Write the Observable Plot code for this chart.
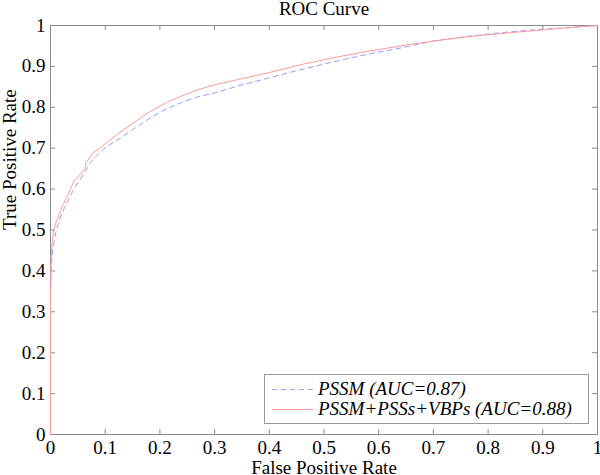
<!DOCTYPE html>
<html><head><meta charset="utf-8">
<script src="https://cdn.jsdelivr.net/npm/d3@7"></script>
<script src="https://cdn.jsdelivr.net/npm/@observablehq/plot@0.6"></script>
<style>
body{margin:0;background:#fff;}
#wrap{position:relative;width:600px;height:475px;font-family:"Liberation Serif","Times New Roman",Times,serif;}
#wrap svg text{font-family:"Liberation Serif","Times New Roman",Times,serif;}
#legend{position:absolute;left:264px;top:374px;width:325px;height:50px;border:1px solid #999;background:#fff;box-sizing:border-box;}
.row{position:absolute;left:0;height:20px;display:flex;align-items:center;font-style:italic;font-size:19px;color:#000;white-space:nowrap;}
.row svg{margin-left:7px;margin-right:5px;}
</style></head><body><div id="wrap"></div>
<script>
// ---- data ----
const title = "ROC Curve";
const xLabel = "False Positive Rate";
const yLabel = "True Positive Rate";
const xTicks = [0,0.1,0.2,0.3,0.4,0.5,0.6,0.7,0.8,0.9,1];
const xTickLabels = ["0","0.1","0.2","0.3","0.4","0.5","0.6","0.7","0.8","0.9","1"];
const yTicks = [0,0.1,0.2,0.3,0.4,0.5,0.6,0.7,0.8,0.9,1];
const yTickLabels = ["0","0.1","0.2","0.3","0.4","0.5","0.6","0.7","0.8","0.9","1"];
const seriesNames = ["PSSM (AUC=0.87)", "PSSM+PSSs+VBPs (AUC=0.88)"];
const seriesColors = ["#9a9aff", "#ff9a9a"];
const seriesDash = ["5,4", null];

const pssmFpr = [0,0,0.002,0.005,0.009,0.015,0.024,0.035,0.045,0.06,0.073,0.09,0.104,0.128,0.15,0.18,0.21,0.24,0.27,0.3,0.35,0.4,0.46,0.52,0.58,0.64,0.7,0.76,0.82,0.88,0.94,1];
const pssmTpr = [0,0.35,0.42,0.46,0.49,0.52,0.55,0.58,0.605,0.635,0.665,0.69,0.705,0.725,0.745,0.772,0.795,0.812,0.826,0.835,0.855,0.872,0.893,0.912,0.93,0.945,0.962,0.973,0.982,0.989,0.994,1];

const fullFpr = [0,0,0.001,0.003,0.006,0.009,0.015,0.024,0.033,0.043,0.055,0.063,0.065,0.079,0.09,0.104,0.128,0.15,0.18,0.21,0.24,0.27,0.3,0.35,0.4,0.46,0.52,0.58,0.64,0.7,0.76,0.82,0.88,0.94,1];
const fullTpr = [0,0.35,0.43,0.47,0.50,0.515,0.535,0.565,0.59,0.62,0.637,0.65,0.665,0.69,0.70,0.715,0.74,0.76,0.788,0.81,0.828,0.843,0.855,0.87,0.885,0.905,0.922,0.937,0.95,0.962,0.972,0.98,0.987,0.994,1];

// ---- build ----
const W = 600, H = 475, mt = 25, mr = 3, mb = 41, ml = 50;
const fh = H - mt - mb, fw = W - ml - mr, tl = 5;
const toRows = (xs, ys) => xs.map((x, i) => ({fpr: x, tpr: ys[i]}));
const series = [toRows(pssmFpr, pssmTpr), toRows(fullFpr, fullTpr)];
const axisColor = "#8c8c8c";
const font = "'Liberation Serif', 'Times New Roman', Times, serif";

const plot = Plot.plot({
  width: W, height: H,
  marginTop: mt, marginRight: mr, marginBottom: mb, marginLeft: ml,
  style: {fontFamily: font, fontSize: "19px", color: "#000", background: "#fff"},
  x: {domain: [0, 1]},
  y: {domain: [0, 1]},
  marks: [
    Plot.frame({stroke: axisColor}),
    Plot.tickX(xTicks, {x: d => d, stroke: axisColor, insetTop: fh - tl}),
    Plot.tickX(xTicks, {x: d => d, stroke: axisColor, insetBottom: fh - tl}),
    Plot.tickY(yTicks, {y: d => d, stroke: axisColor, insetRight: fw - tl}),
    Plot.tickY(yTicks, {y: d => d, stroke: axisColor, insetLeft: fw - tl}),
    Plot.axisX({ticks: xTicks, tickFormat: d => xTickLabels[xTicks.indexOf(d)], tickSize: 0, tickPadding: 6, fontSize: 19, label: null}),
    Plot.axisY({ticks: yTicks, tickFormat: d => yTickLabels[yTicks.indexOf(d)], tickSize: 0, tickPadding: 5, fontSize: 19, label: null}),
    ...series.map((rows, i) => Plot.line(rows, {x: "fpr", y: "tpr", stroke: seriesColors[i], strokeWidth: 1, strokeDasharray: seriesDash[i]})),
    Plot.text([title], {frameAnchor: "top", lineAnchor: "middle", dy: -17, fontSize: 19, fill: "#000"}),
    Plot.text([xLabel], {frameAnchor: "bottom", lineAnchor: "middle", dy: 33, fontSize: 19, fill: "#000"}),
    Plot.text([yLabel], {frameAnchor: "left", lineAnchor: "middle", dx: -41, rotate: -90, fontSize: 19, fill: "#000"})
  ]
});
const wrap = document.getElementById("wrap");
wrap.appendChild(plot);

// legend (inside the axes, lower right)
const leg = document.createElement("div");
leg.id = "legend";
const rowCenters = [14, 34];
seriesNames.forEach((name, i) => {
  const row = document.createElement("div");
  row.className = "row";
  row.style.top = (rowCenters[i] - 10) + "px";
  const dash = seriesDash[i] ? ` stroke-dasharray="${seriesDash[i]}"` : "";
  row.innerHTML = `<svg width="41" height="20"><line x1="0" x2="41" y1="10.5" y2="10.5" stroke="${seriesColors[i]}" stroke-width="1"${dash}/></svg><span></span>`;
  row.querySelector("span").textContent = name;
  leg.appendChild(row);
});
wrap.appendChild(leg);
</script></body></html>
